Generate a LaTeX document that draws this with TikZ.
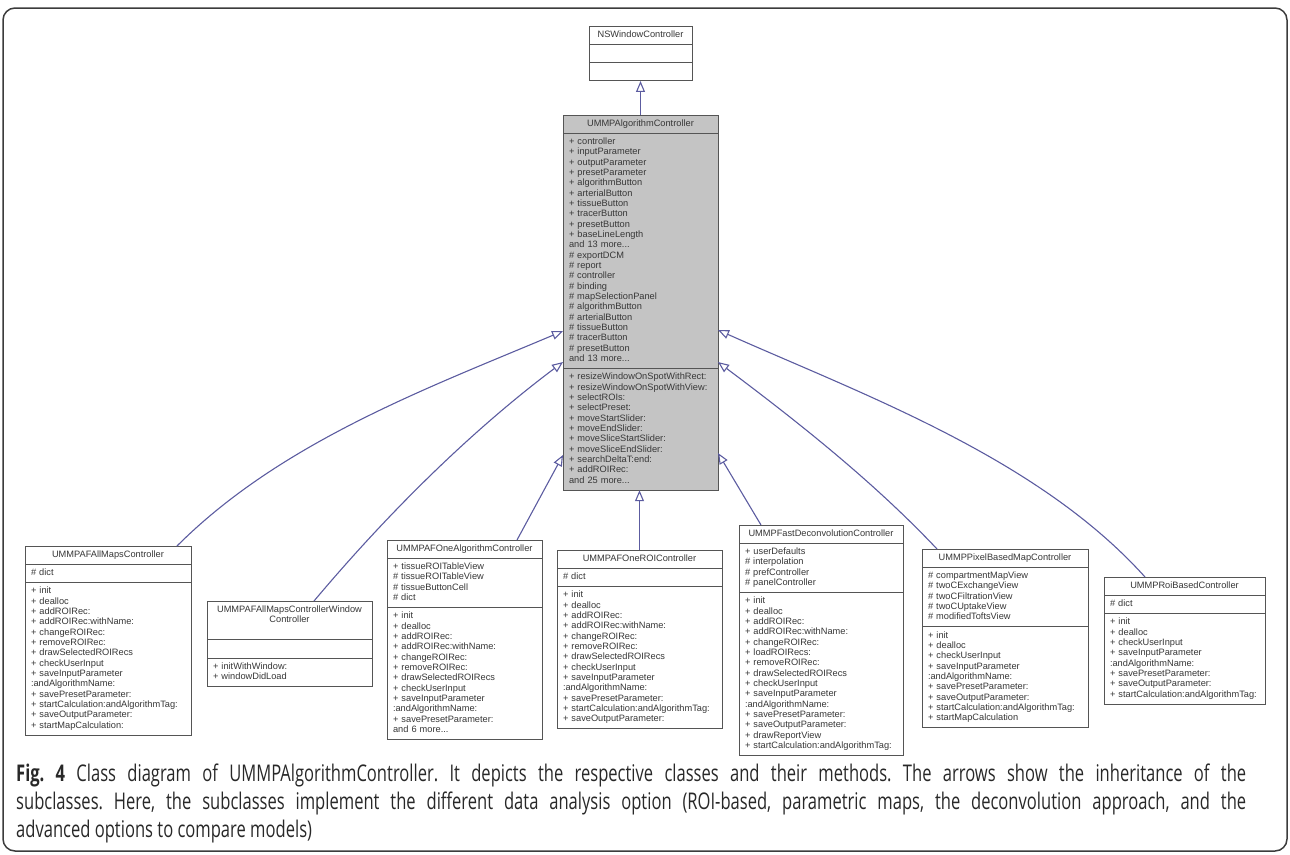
\documentclass[tikz,border=0pt]{standalone}
\usepackage{fontspec}
\setmainfont{Liberation Sans}
\newfontfamily\classfont{Liberation Sans}
\newfontfamily\capfont[FakeStretch=0.72]{Open Sans}
\usetikzlibrary{shapes.multipart,arrows.meta,calc}
\definecolor{boxline}{RGB}{85,85,85}
\definecolor{txt}{RGB}{55,55,55}
\definecolor{mainfill}{RGB}{196,196,196}
\definecolor{arrowcol}{RGB}{92,92,160}
\definecolor{framecol}{RGB}{60,60,60}
\definecolor{captxt}{RGB}{40,40,40}
\newcommand\ctitle[1]{\hbox to\hsize{\hss #1\hss}}
\tikzset{
  umlclass/.style={rectangle split, rectangle split parts=3, draw=boxline, line width=1pt,
    fill=white, text=txt, font=\classfont\fontsize{9.25}{10.33}\selectfont,
    inner xsep=6pt, inner ysep=3.5pt, outer sep=0pt, anchor=north west, align=left},
  inherit/.style={draw=arrowcol, line width=1.1pt, -{Triangle[open, length=11pt, width=9pt]}},
  capline/.style={anchor=base west, inner sep=0pt, text=captxt, font=\capfont\fontsize{23}{28}\selectfont\frenchspacing},
}
\begin{document}
\begin{tikzpicture}[x=1pt, y=-1pt]
\useasboundingbox (0,0) rectangle (1290,854);
\draw[rounded corners=12pt, line width=1.5pt, draw=framecol] (3,8) rectangle (1287,851);

% superclass
\node[umlclass, text width=91pt] (ns) at (589,26)
  {\strut\ctitle{NSWindowController}\strut\nodepart{two}\strut\nodepart{three}\strut};

% main class
\node[umlclass, fill=mainfill, inner xsep=6pt, text width=143pt] (main) at (563,115)
  {\strut\ctitle{UMMPAlgorithmController}\strut
   \nodepart{two}\strut + controller\\ + inputParameter\\ + outputParameter\\ + presetParameter\\
   + algorithmButton\\ + arterialButton\\ + tissueButton\\ + tracerButton\\ + presetButton\\
   + baseLineLength\\ and 13 more...\\ \# exportDCM\\ \# report\\ \# controller\\ \# binding\\
   \# mapSelectionPanel\\ \# algorithmButton\\ \# arterialButton\\ \# tissueButton\\
   \# tracerButton\\ \# presetButton\\ and 13 more...\strut
   \nodepart{three}\strut + resizeWindowOnSpotWithRect:\\ + resizeWindowOnSpotWithView:\\
   + selectROIs:\\ + selectPreset:\\ + moveStartSlider:\\ + moveEndSlider:\\
   + moveSliceStartSlider:\\ + moveSliceEndSlider:\\ + searchDeltaT:end:\\ + addROIRec:\\
   and 25 more...\strut};

% subclasses
\node[umlclass, text width=154pt] (b1) at (25,546)
  {\strut\ctitle{UMMPAFAllMapsController}\strut
   \nodepart{two}\strut\# dict\strut
   \nodepart{three}\strut + init\\ + dealloc\\ + addROIRec:\\ + addROIRec:withName:\\
   + changeROIRec:\\ + removeROIRec:\\ + drawSelectedROIRecs\\ + checkUserInput\\
   + saveInputParameter\\ :andAlgorithmName:\\ + savePresetParameter:\\
   + startCalculation:andAlgorithmTag:\\ + saveOutputParameter:\\ + startMapCalculation:\strut};

\node[umlclass, text width=153pt] (b2) at (207,601)
  {\strut\ctitle{UMMPAFAllMapsControllerWindow}\\ \ctitle{Controller}\strut
   \nodepart{two}\strut
   \nodepart{three}\strut + initWithWindow:\\ + windowDidLoad\strut};

\node[umlclass, text width=143pt] (b3) at (387,540)
  {\strut\ctitle{UMMPAFOneAlgorithmController}\strut
   \nodepart{two}\strut + tissueROITableView\\ \# tissueROITableView\\ \# tissueButtonCell\\ \# dict\strut
   \nodepart{three}\strut + init\\ + dealloc\\ + addROIRec:\\ + addROIRec:withName:\\
   + changeROIRec:\\ + removeROIRec:\\ + drawSelectedROIRecs\\ + checkUserInput\\
   + saveInputParameter\\ :andAlgorithmName:\\ + savePresetParameter:\\ and 6 more...\strut};

\node[umlclass, text width=153pt] (b4) at (557,550)
  {\strut\ctitle{UMMPAFOneROIController}\strut
   \nodepart{two}\strut\# dict\strut
   \nodepart{three}\strut + init\\ + dealloc\\ + addROIRec:\\ + addROIRec:withName:\\
   + changeROIRec:\\ + removeROIRec:\\ + drawSelectedROIRecs\\ + checkUserInput\\
   + saveInputParameter\\ :andAlgorithmName:\\ + savePresetParameter:\\
   + startCalculation:andAlgorithmTag:\\ + saveOutputParameter:\strut};

\node[umlclass, text width=152pt] (b5) at (739,525)
  {\strut\ctitle{UMMPFastDeconvolutionController}\strut
   \nodepart{two}\strut + userDefaults\\ \# interpolation\\ \# prefController\\ \# panelController\strut
   \nodepart{three}\strut + init\\ + dealloc\\ + addROIRec:\\ + addROIRec:withName:\\
   + changeROIRec:\\ + loadROIRecs:\\ + removeROIRec:\\ + drawSelectedROIRecs\\ + checkUserInput\\
   + saveInputParameter\\ :andAlgorithmName:\\ + savePresetParameter:\\
   + saveOutputParameter:\\ + drawReportView\\ + startCalculation:andAlgorithmTag:\strut};

\node[umlclass, text width=154pt] (b6) at (922,549)
  {\strut\ctitle{UMMPPixelBasedMapController}\strut
   \nodepart{two}\strut\# compartmentMapView\\ \# twoCExchangeView\\ \# twoCFiltrationView\\
   \# twoCUptakeView\\ \# modifiedToftsView\strut
   \nodepart{three}\strut + init\\ + dealloc\\ + checkUserInput\\ + saveInputParameter\\
   :andAlgorithmName:\\ + savePresetParameter:\\ + saveOutputParameter:\\
   + startCalculation:andAlgorithmTag:\\ + startMapCalculation\strut};

\node[umlclass, text width=149pt] (b7) at (1104,577)
  {\strut\ctitle{UMMPRoiBasedController}\strut
   \nodepart{two}\strut\# dict\strut
   \nodepart{three}\strut + init\\ + dealloc\\ + checkUserInput\\ + saveInputParameter\\
   :andAlgorithmName:\\ + savePresetParameter:\\ + saveOutputParameter:\\
   + startCalculation:andAlgorithmTag:\strut};

% attachment points
\coordinate (mL1) at ([yshift=-216pt]main.north west);
\coordinate (mL2) at ([yshift=-247pt]main.north west);
\coordinate (mL3) at ([yshift=-340pt]main.north west);
\coordinate (mR1) at ([yshift=-215pt]main.north east);
\coordinate (mR2) at ([yshift=-247pt]main.north east);
\coordinate (mR3) at ([yshift=-338pt]main.north east);
\coordinate (s1) at ([xshift=152pt]b1.north west);
\coordinate (s2) at ([xshift=107pt]b2.north west);
\coordinate (s3) at ([xshift=130pt]b3.north west);
\coordinate (s5) at ([xshift=22pt]b5.north west);
\coordinate (s6) at ([xshift=15pt]b6.north west);
\coordinate (s7) at ([xshift=41pt]b7.north west);

% inheritance connectors
\draw[inherit] (main.north) -- (ns.south);
\draw[inherit] (s1) .. controls ($(s1)+(104,-104)$) and ($(mL1)+(-135,57)$) .. (mL1);
\draw[inherit] (s2) .. controls ($(s2)+(74,-88)$) and ($(mL2)+(-92,69)$) .. (mL2);
\draw[inherit] (s3) -- (mL3);
\draw[inherit] (b4.north) -- (b4.north |- main.south);
\draw[inherit] (s5) -- (mR3);
\draw[inherit] (s6) .. controls ($(s6)+(-65,-69)$) and ($(mR2)+(76,57)$) .. (mR2);
\draw[inherit] (s7) .. controls ($(s7)+(-107,-119)$) and ($(mR1)+(146,65)$) .. (mR1);

% caption
\node[capline] (cap1) at (16,781) {\hbox to 1230pt{\textbf{Fig. 4} Class diagram of UMMPAlgorithmController. It depicts the respective classes and their methods. The arrows show the inheritance of the}};
\node[capline] (cap2) at (16,809) {\hbox to 1230pt{subclasses. Here, the subclasses implement the different data analysis option (ROI-based, parametric maps, the deconvolution approach, and the}};
\node[capline] (cap3) at (16,837) {advanced options to compare models)};
\end{tikzpicture}
\end{document}
